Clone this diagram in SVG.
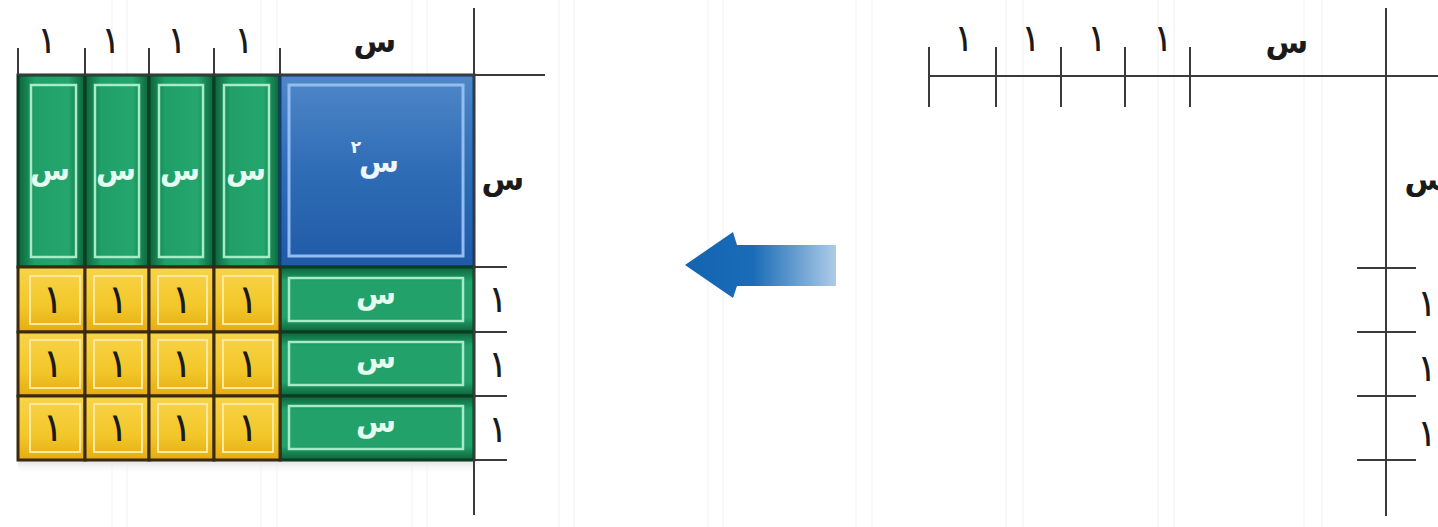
<svg xmlns="http://www.w3.org/2000/svg" width="1438" height="527" viewBox="0 0 1438 527">
<defs>
<linearGradient id="gV" x1="0" y1="0" x2="1" y2="0">
<stop offset="0" stop-color="#0c633a"/><stop offset="0.25" stop-color="#20a068"/><stop offset="0.75" stop-color="#24a66e"/><stop offset="1" stop-color="#0c633a"/>
</linearGradient>
<linearGradient id="gH" x1="0" y1="0" x2="0" y2="1">
<stop offset="0" stop-color="#0c633a"/><stop offset="0.22" stop-color="#22a26a"/><stop offset="0.78" stop-color="#22a26a"/><stop offset="1" stop-color="#0c633a"/>
</linearGradient>
<linearGradient id="bl" x1="0" y1="0" x2="0" y2="1">
<stop offset="0" stop-color="#4f88c8"/><stop offset="0.5" stop-color="#2f6cb6"/><stop offset="1" stop-color="#1f5aa6"/>
</linearGradient>
<linearGradient id="yl" x1="0" y1="0" x2="0" y2="1">
<stop offset="0" stop-color="#f8d44a"/><stop offset="0.6" stop-color="#f3c72a"/><stop offset="1" stop-color="#e4ad12"/>
</linearGradient>
<linearGradient id="ar" x1="685" y1="0" x2="836" y2="0" gradientUnits="userSpaceOnUse">
<stop offset="0" stop-color="#1464b0"/><stop offset="0.45" stop-color="#1a6cb8"/><stop offset="1" stop-color="#aecbe7"/>
</linearGradient>
<linearGradient id="sh" x1="0" y1="0" x2="0" y2="1">
<stop offset="0" stop-color="#dcdcdc"/><stop offset="1" stop-color="#ffffff" stop-opacity="0"/>
</linearGradient>
</defs>
<style>
.ax{stroke:#3a3a3a;stroke-width:2;fill:none}
.lbl{font-family:"DejaVu Sans",sans-serif;fill:#1a1a1a;text-anchor:middle}
.big{font-size:31px;font-weight:bold}
.one{font-size:38px}
.cone{font-family:"DejaVu Sans",sans-serif;fill:#1a1a1a;text-anchor:middle;font-size:40px}
.wt{font-family:"DejaVu Sans",sans-serif;font-weight:bold;fill:#e6fbef;text-anchor:middle;font-size:29px}
.cellV{fill:url(#gV);stroke:#0b3d24;stroke-width:3}
.cellH{fill:url(#gH);stroke:#0b3d24;stroke-width:3}
.cellB{fill:url(#bl);stroke:#0f3d70;stroke-width:3}
.cellY{fill:url(#yl);stroke:#3a2a10;stroke-width:3}
.inG{fill:none;stroke:#a6ecc6;stroke-width:2.5}
.inB{fill:none;stroke:#93bdf0;stroke-width:3}
.inY{fill:none;stroke:#fce9a0;stroke-width:2}
.stripe{stroke:#f8f8f8;stroke-width:2}
</style>
<rect width="1438" height="527" fill="#ffffff"/>
<g id="background">
<line class="stripe" x1="112" y1="0" x2="112" y2="527"/><line class="stripe" x1="127" y1="0" x2="127" y2="527"/>
<line class="stripe" x1="261" y1="0" x2="261" y2="527"/><line class="stripe" x1="277" y1="0" x2="277" y2="527"/>
<line class="stripe" x1="412" y1="0" x2="412" y2="527"/><line class="stripe" x1="427" y1="0" x2="427" y2="527"/>
<line class="stripe" x1="559" y1="0" x2="559" y2="527"/><line class="stripe" x1="574" y1="0" x2="574" y2="527"/>
<line class="stripe" x1="708" y1="0" x2="708" y2="527"/><line class="stripe" x1="723" y1="0" x2="723" y2="527"/>
<line class="stripe" x1="856" y1="0" x2="856" y2="527"/><line class="stripe" x1="872" y1="0" x2="872" y2="527"/>
<line class="stripe" x1="1006" y1="0" x2="1006" y2="527"/><line class="stripe" x1="1023" y1="0" x2="1023" y2="527"/>
<line class="stripe" x1="1158" y1="0" x2="1158" y2="527"/><line class="stripe" x1="1174" y1="0" x2="1174" y2="527"/>
<line class="stripe" x1="1304" y1="0" x2="1304" y2="527"/><line class="stripe" x1="1322" y1="0" x2="1322" y2="527"/>
</g>
<rect x="18" y="460" width="456" height="14" fill="url(#sh)"/>
<g id="x-columns">
<g id="xcol1"><rect class="cellV" x="18" y="75" width="67" height="192"/><rect class="inG" x="31" y="85" width="45" height="172"/><text class="wt" x="50" y="180">س</text></g>
<g id="xcol2"><rect class="cellV" x="85" y="75" width="64" height="192"/><rect class="inG" x="95" y="85" width="44" height="172"/><text class="wt" x="116" y="180">س</text></g>
<g id="xcol3"><rect class="cellV" x="149" y="75" width="65" height="192"/><rect class="inG" x="159" y="85" width="44" height="172"/><text class="wt" x="180" y="180">س</text></g>
<g id="xcol4"><rect class="cellV" x="214" y="75" width="66" height="192"/><rect class="inG" x="224" y="85" width="45" height="172"/><text class="wt" x="246" y="180">س</text></g>
</g>
<g id="x-squared">
<rect class="cellB" x="280" y="75" width="194" height="192"/><rect class="inB" x="289" y="85" width="174" height="171"/>
<text class="wt" x="379" y="172" style="fill:#eef6ff">س</text>
<text class="wt" x="356" y="153" style="font-size:17px;fill:#eef6ff">٢</text>
</g>
<g id="x-rows">
<g id="xrow1"><rect class="cellH" x="280" y="267" width="194" height="65"/><rect class="inG" x="289" y="278" width="174" height="43"/><text class="wt" x="376" y="304">س</text></g>
<g id="xrow2"><rect class="cellH" x="280" y="332" width="194" height="64"/><rect class="inG" x="289" y="342" width="174" height="43"/><text class="wt" x="376" y="368">س</text></g>
<g id="xrow3"><rect class="cellH" x="280" y="396" width="194" height="64"/><rect class="inG" x="289" y="406" width="174" height="43"/><text class="wt" x="376" y="432">س</text></g>
</g>
<g id="units">
<g id="u11"><rect class="cellY" x="18" y="267" width="67" height="65"/><rect class="inY" x="30" y="276" width="50" height="48"/><text class="cone" x="53" y="313">١</text></g>
<g id="u12"><rect class="cellY" x="85" y="267" width="64" height="65"/><rect class="inY" x="94" y="276" width="48" height="48"/><text class="cone" x="118" y="313">١</text></g>
<g id="u13"><rect class="cellY" x="149" y="267" width="65" height="65"/><rect class="inY" x="158" y="276" width="49" height="48"/><text class="cone" x="182" y="313">١</text></g>
<g id="u14"><rect class="cellY" x="214" y="267" width="66" height="65"/><rect class="inY" x="223" y="276" width="50" height="48"/><text class="cone" x="248" y="313">١</text></g>
<g id="u21"><rect class="cellY" x="18" y="332" width="67" height="64"/><rect class="inY" x="30" y="340" width="50" height="48"/><text class="cone" x="53" y="377">١</text></g>
<g id="u22"><rect class="cellY" x="85" y="332" width="64" height="64"/><rect class="inY" x="94" y="340" width="48" height="48"/><text class="cone" x="118" y="377">١</text></g>
<g id="u23"><rect class="cellY" x="149" y="332" width="65" height="64"/><rect class="inY" x="158" y="340" width="49" height="48"/><text class="cone" x="182" y="377">١</text></g>
<g id="u24"><rect class="cellY" x="214" y="332" width="66" height="64"/><rect class="inY" x="223" y="340" width="50" height="48"/><text class="cone" x="248" y="377">١</text></g>
<g id="u31"><rect class="cellY" x="18" y="396" width="67" height="64"/><rect class="inY" x="30" y="404" width="50" height="48"/><text class="cone" x="53" y="441">١</text></g>
<g id="u32"><rect class="cellY" x="85" y="396" width="64" height="64"/><rect class="inY" x="94" y="404" width="48" height="48"/><text class="cone" x="118" y="441">١</text></g>
<g id="u33"><rect class="cellY" x="149" y="396" width="65" height="64"/><rect class="inY" x="158" y="404" width="49" height="48"/><text class="cone" x="182" y="441">١</text></g>
<g id="u34"><rect class="cellY" x="214" y="396" width="66" height="64"/><rect class="inY" x="223" y="404" width="50" height="48"/><text class="cone" x="248" y="441">١</text></g>
</g>
<g id="connectors">
<g id="left-axes">
<line class="ax" x1="18" y1="75" x2="545" y2="75"/>
<line class="ax" x1="474" y1="8" x2="474" y2="515"/>
<line class="ax" x1="18" y1="48" x2="18" y2="75"/>
<line class="ax" x1="85" y1="48" x2="85" y2="75"/>
<line class="ax" x1="149" y1="48" x2="149" y2="75"/>
<line class="ax" x1="214" y1="48" x2="214" y2="75"/>
<line class="ax" x1="280" y1="48" x2="280" y2="75"/>
<line class="ax" x1="474" y1="267" x2="507" y2="267"/>
<line class="ax" x1="474" y1="332" x2="507" y2="332"/>
<line class="ax" x1="474" y1="396" x2="507" y2="396"/>
<line class="ax" x1="474" y1="460" x2="507" y2="460"/>
</g>
<g id="right-axes">
<line class="ax" x1="929" y1="76" x2="1438" y2="76"/>
<line class="ax" x1="1386" y1="8" x2="1386" y2="516"/>
<line class="ax" x1="929" y1="47" x2="929" y2="107"/>
<line class="ax" x1="996" y1="47" x2="996" y2="107"/>
<line class="ax" x1="1061" y1="47" x2="1061" y2="107"/>
<line class="ax" x1="1125" y1="47" x2="1125" y2="107"/>
<line class="ax" x1="1190" y1="47" x2="1190" y2="107"/>
<line class="ax" x1="1357" y1="268" x2="1416" y2="268"/>
<line class="ax" x1="1357" y1="332" x2="1416" y2="332"/>
<line class="ax" x1="1357" y1="396" x2="1416" y2="396"/>
<line class="ax" x1="1357" y1="460" x2="1416" y2="460"/>
</g>
<polygon id="arrow" points="685,265 733,232 737,245 836,245 836,286 737,286 733,298" fill="url(#ar)"/>
</g>
<g id="left-labels">
<text class="lbl one" x="47" y="53">١</text>
<text class="lbl one" x="111" y="53">١</text>
<text class="lbl one" x="177" y="53">١</text>
<text class="lbl one" x="244" y="53">١</text>
<text class="lbl big" x="375" y="52">س</text>
<text class="lbl big" x="503" y="190">س</text>
<text class="lbl one" x="498" y="312">١</text>
<text class="lbl one" x="498" y="377">١</text>
<text class="lbl one" x="498" y="442">١</text>
</g>
<g id="right-labels">
<text class="lbl one" x="964" y="51">١</text>
<text class="lbl one" x="1031" y="51">١</text>
<text class="lbl one" x="1097" y="51">١</text>
<text class="lbl one" x="1163" y="51">١</text>
<text class="lbl big" x="1287" y="53">س</text>
<text class="lbl big" x="1426" y="190">س</text>
<text class="lbl one" x="1427" y="316">١</text>
<text class="lbl one" x="1427" y="381">١</text>
<text class="lbl one" x="1427" y="446">١</text>
</g>
</svg>
